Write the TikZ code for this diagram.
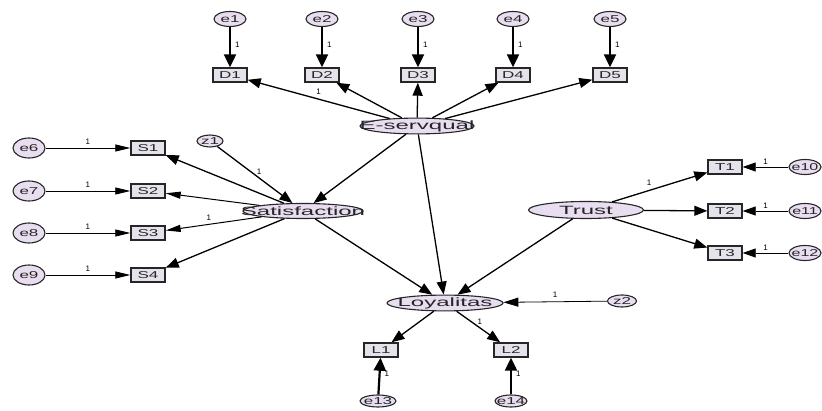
\documentclass[tikz,border=0pt]{standalone}
\usepackage{graphicx}
\usepackage{fontspec}
\setmainfont{Liberation Sans}
\usetikzlibrary{shapes.geometric,arrows.meta}
\definecolor{ellfill}{HTML}{E9DDF0}
\definecolor{boxfill}{HTML}{E6E2EC}
\definecolor{txt}{HTML}{252525}
\newcommand\wt[2]{\makebox[0pt]{\scalebox{#1}[1]{#2}}}
\tikzset{
  lat/.style={ellipse, draw=black!85, line width=1.1pt, fill=ellfill, inner sep=0pt,
    minimum height=15pt, text=txt, font=\fontsize{12}{12}\selectfont},
  errnode/.style={ellipse, draw=black!85, line width=1.1pt, fill=ellfill, inner sep=0pt,
    minimum width=32pt, minimum height=15pt, text=txt, font=\fontsize{10}{10}\selectfont},
  obs/.style={rectangle, draw=black!85, line width=1.4pt, fill=boxfill, inner sep=0pt,
    minimum width=34pt, minimum height=14pt, text=txt, font=\fontsize{10}{10}\selectfont},
  heavy/.style={line width=2.2pt, -{Triangle[length=13pt,width=12pt]}},
  midarr/.style={line width=1.3pt, -{Triangle[length=13pt,width=10pt]}},
  thinarr/.style={line width=0.8pt, -{Triangle[length=15pt,width=7pt]}},
  lab/.style={font=\fontsize{8}{8}\selectfont, inner sep=1pt, text=black}
}
\begin{document}
\begin{tikzpicture}[x=1pt,y=-1pt]
\useasboundingbox (0,0) rectangle (822,411);

% E-servqual indicators
\foreach \i/\x in {1/230,2/322,3/418,4/513,5/610}{
  \node[errnode] (e\i) at (\x,19) {\wt{1.7}{e\i}};
  \node[obs] (D\i) at (\x,75) {\wt{1.7}{D\i}};
  \draw[heavy] (e\i) -- node[lab,right=3pt,pos=0.45]{1} (D\i);
}
\node[lat, minimum width=114pt] (Es) at (417,126) {\wt{2}{E-servqual}};
\draw[midarr] (Es) -- node[lab,above=3pt,pos=0.5]{1} (D1);
\foreach \i in {2,3,4,5}{ \draw[midarr] (Es) -- (D\i); }

% Satisfaction
\node[lat, minimum width=120pt] (Sat) at (303,211) {\wt{2}{Satisfaction}};
\node[errnode, minimum width=26pt, minimum height=12pt] (z1) at (210,141) {\wt{1.7}{z1}};
\draw[midarr] (z1) -- node[lab,right=4pt,pos=0.45]{1} (Sat);
\foreach \j/\y/\e in {1/148/6,2/191/7,3/233/8,4/275/9}{
  \node[obs] (S\j) at (148,\y) {\wt{1.7}{S\j}};
  \node[errnode, minimum width=32pt, minimum height=20pt] (e\e) at (29,\y) {\wt{1.7}{e\e}};
  \draw[thinarr] (e\e) -- node[lab,above=2pt]{1} (S\j);
}
\draw[midarr] (Sat) -- (S1);
\draw[thinarr, line width=1pt] (Sat) -- (S2);
\draw[thinarr, line width=1pt] (Sat) -- node[lab,above=2pt,pos=0.55]{1} (S3);
\draw[midarr] (Sat) -- (S4);

% Trust
\node[lat, minimum width=115pt, minimum height=17pt] (Tr) at (586,210) {\wt{2}{Trust}};
\foreach \k/\y/\e in {1/167/10,2/211/11,3/253/12}{
  \node[obs] (T\k) at (725,\y) {\wt{1.7}{T\k}};
  \node[errnode] (e\e) at (805,\y) {\wt{1.6}{e\e}};
  \draw[thinarr, -{Triangle[length=13pt,width=9pt]}] (e\e) -- node[lab,above=1pt,pos=0.5]{1} (T\k);
}
\draw[midarr] (Tr) -- node[lab,above left=2pt,pos=0.45]{1} (T1);
\draw[midarr] (Tr) -- (T2);
\draw[midarr] (Tr) -- (T3);

% Loyalitas
\node[lat, minimum width=116pt] (Loy) at (445,303) {\wt{2}{Loyalitas}};
\node[errnode, minimum width=29pt, minimum height=12pt] (z2) at (622,301) {\wt{1.7}{z2}};
\draw[thinarr, -{Triangle[length=15pt,width=9pt]}] (z2) -- node[lab,above=3pt,pos=0.5]{1} (Loy);
\node[obs] (L1) at (381,350) {\wt{1.7}{L1}};
\node[obs] (L2) at (511,350) {\wt{1.7}{L2}};
\node[errnode, minimum width=36pt, minimum height=12pt] (e13) at (378,401) {\wt{1.7}{e13}};
\node[errnode, minimum width=32pt, minimum height=12pt] (e14) at (511,401) {\wt{1.7}{e14}};
\draw[midarr] (Loy) -- (L1);
\draw[midarr] (Loy) -- node[lab,right=4pt,pos=0.35]{1} (L2);
\draw[heavy] (e13) -- node[lab,right=3pt,pos=0.55]{1} (L1);
\draw[heavy] (e14) -- node[lab,right=3pt,pos=0.55]{1} (L2);

% structural paths
\draw[midarr] (Es) -- (Sat);
\draw[midarr] (Es) -- (Loy);
\draw[midarr] (Sat) -- (Loy);
\draw[midarr] (Tr) -- (Loy);
\end{tikzpicture}
\end{document}
